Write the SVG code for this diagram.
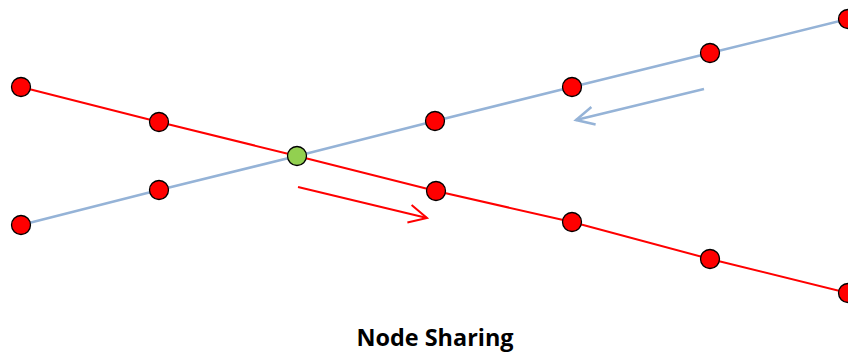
<svg xmlns="http://www.w3.org/2000/svg" width="848" height="352" viewBox="0 0 848 352">
<style>
.red{stroke:#FF0000;stroke-width:2;fill:none}
.blue{stroke:#95B3D7;stroke-width:2.5;fill:none}
.node circle{stroke:#000;stroke-width:1.3}
.r{fill:#FF0000}
.g{fill:#92D050}
.lbl{font-family:"Open Sans","Liberation Sans",sans-serif;font-weight:bold;font-size:23px;fill:#000}
</style>
<defs>
<marker id="ahR" markerUnits="userSpaceOnUse" viewBox="-20 -11 22 22" markerWidth="22" markerHeight="22" refX="0" refY="0" orient="auto" overflow="visible">
<path d="M-18,-9 L0,0 L-18,9" fill="none" stroke="#FF0000" stroke-width="2"/>
</marker>
<marker id="ahB" markerUnits="userSpaceOnUse" viewBox="-20 -11 22 22" markerWidth="22" markerHeight="22" refX="0" refY="0" orient="auto" overflow="visible">
<path d="M-18,-9 L0,0 L-18,9" fill="none" stroke="#95B3D7" stroke-width="2.5"/>
</marker>
</defs>
<g id="connectors">
<path class="red" d="M21,87 L159,122 L297,156 L436,191 L572,222 L710,259 L848,293"/>
<path class="blue" d="M21,225 L159,190 L297,156 L435,121 L572,87 L710,53 L848,19"/>
<path class="red" d="M298,187 L427,218" marker-end="url(#ahR)"/>
<path class="blue" d="M704,89 L576,120" marker-end="url(#ahB)"/>
</g>
<g id="n-r1" class="node"><circle class="r" cx="21" cy="87" r="9.5"/></g>
<g id="n-r2" class="node"><circle class="r" cx="159" cy="122" r="9.5"/></g>
<g id="n-r3" class="node"><circle class="r" cx="436" cy="191" r="9.5"/></g>
<g id="n-r4" class="node"><circle class="r" cx="572" cy="222" r="9.5"/></g>
<g id="n-r5" class="node"><circle class="r" cx="710" cy="259" r="9.5"/></g>
<g id="n-r6" class="node"><circle class="r" cx="848" cy="293" r="9.5"/></g>
<g id="n-b1" class="node"><circle class="r" cx="21" cy="225" r="9.5"/></g>
<g id="n-b2" class="node"><circle class="r" cx="159" cy="190" r="9.5"/></g>
<g id="n-b3" class="node"><circle class="r" cx="435" cy="121" r="9.5"/></g>
<g id="n-b4" class="node"><circle class="r" cx="572" cy="87" r="9.5"/></g>
<g id="n-b5" class="node"><circle class="r" cx="710" cy="53" r="9.5"/></g>
<g id="n-b6" class="node"><circle class="r" cx="848" cy="19" r="9.5"/></g>
<g id="n-shared" class="node"><circle class="g" cx="297" cy="156" r="9.5"/></g>
<g id="title"><text class="lbl" x="435" y="346" text-anchor="middle" textLength="157" lengthAdjust="spacingAndGlyphs">Node Sharing</text></g>
</svg>
